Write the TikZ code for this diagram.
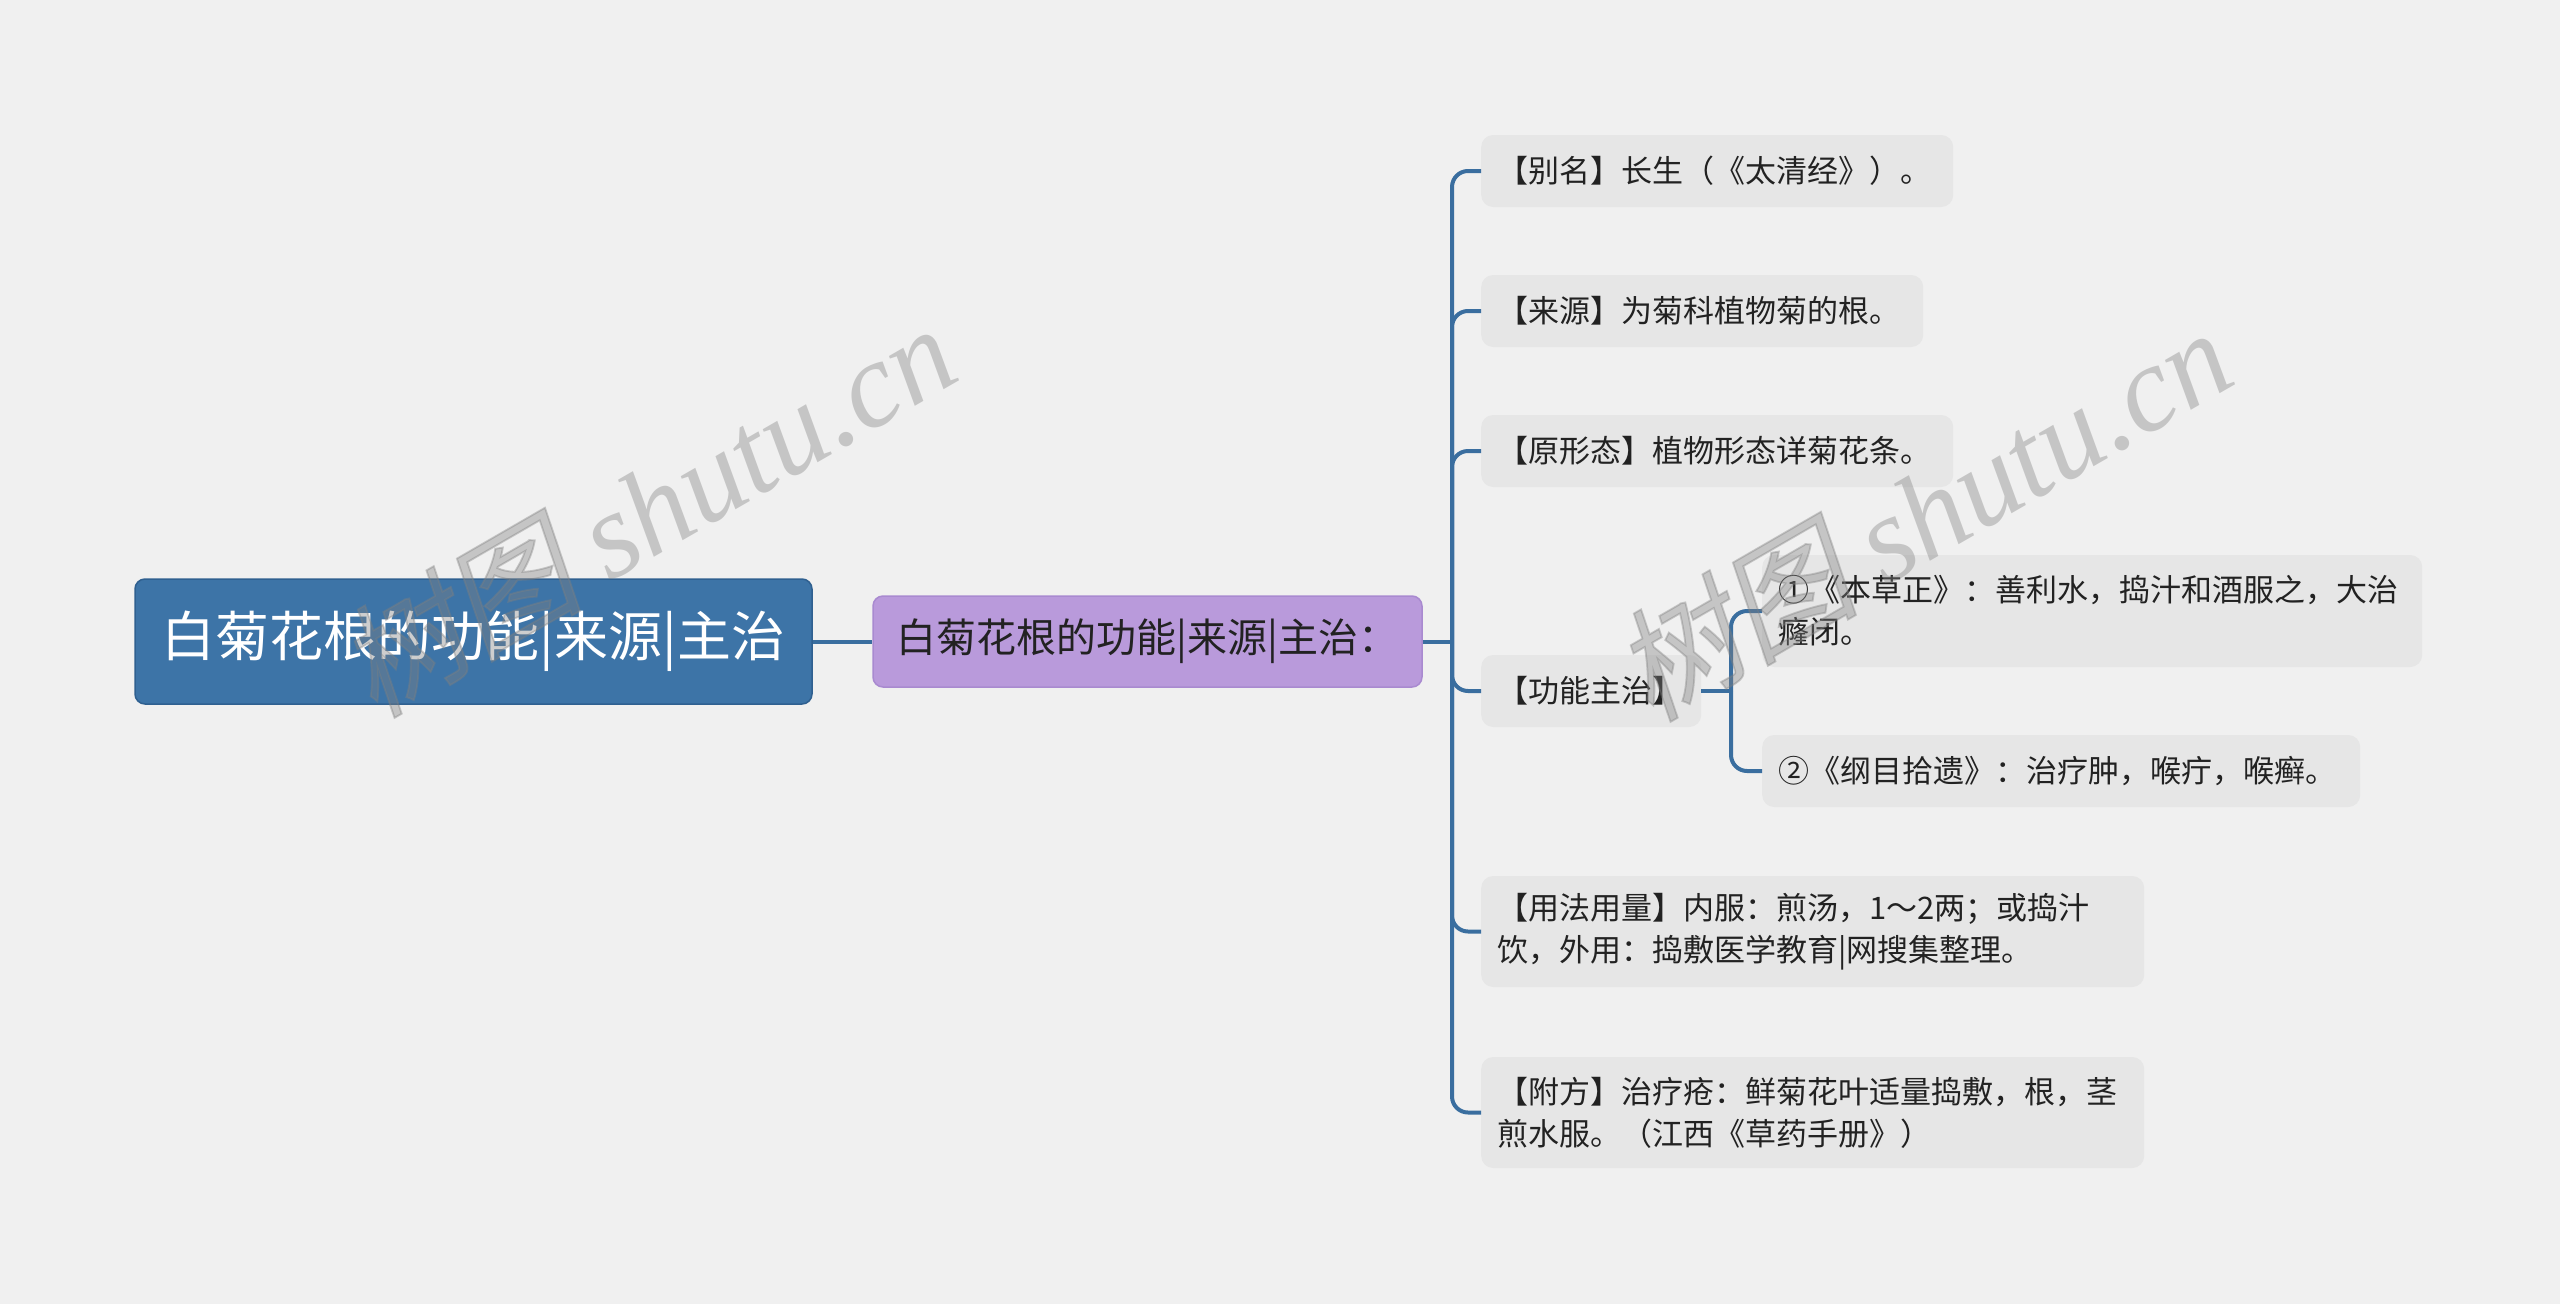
\documentclass[tikz,border=0pt]{standalone}
\usepackage{fontspec}
\setmainfont{Noto Sans CJK SC}
\newfontfamily\wmlatin{Liberation Serif}
\newfontfamily\wmcjk[FakeSlant=0.2,FakeBold=1.5]{Noto Sans CJK SC}
\usetikzlibrary{calc}
\definecolor{bg}{HTML}{F0F0F0}
\definecolor{rootc}{HTML}{3D74A7}
\definecolor{rootb}{HTML}{2F6090}
\definecolor{subc}{HTML}{B99ADB}
\definecolor{subb}{HTML}{A98AD0}
\definecolor{leafc}{HTML}{E6E6E6}
\definecolor{linec}{HTML}{3A6E9F}
\definecolor{txt}{HTML}{222222}
\tikzset{
  rootbox/.style={fill=rootc, draw=rootb, line width=1.5pt, rounded corners=10pt, text=white,
    font=\fontsize{54}{60}\selectfont, inner sep=0pt, minimum width=677pt, minimum height=125pt},
  subbox/.style={fill=subc, draw=subb, line width=1.5pt, rounded corners=10pt, text=txt,
    font=\fontsize{40}{46}\selectfont, inner sep=0pt, minimum width=549pt, minimum height=91pt},
  leafbox/.style={fill=leafc, rounded corners=12pt, text=txt, font=\fontsize{31}{42}\selectfont,
    inner xsep=16pt, inner ysep=0pt, align=left, anchor=west},
  conn/.style={draw=linec, line width=4pt},
  wm/.style={text=black!50, opacity=0.38, font=\fontsize{122}{130}\selectfont, inner sep=0pt}
}
\begin{document}
\begin{tikzpicture}[x=1pt,y=-1pt]
\fill[bg] (0,0) rectangle (2560,1304);
\useasboundingbox (0,0) rectangle (2560,1304);

% main nodes
\node[rootbox] (root) at (473.5,641.5) {白菊花根的功能|来源|主治};
\node[subbox] (sub) at (1147.5,641.5) {白菊花根的功能|来源|主治：};

% leaves
\node[leafbox, text width=440pt, minimum height=72pt] (l1) at (1481,171) {【别名】长生（《太清经》）。};
\node[leafbox, text width=410pt, minimum height=72pt] (l2) at (1481,311) {【来源】为菊科植物菊的根。};
\node[leafbox, text width=440pt, minimum height=72pt] (l3) at (1481,451) {【原形态】植物形态详菊花条。};
\node[leafbox, text width=188pt, minimum height=72pt] (l4) at (1481,691) {【功能主治】};
\node[leafbox, text width=631pt, minimum height=111pt] (l5) at (1481,931.5) {【用法用量】内服：煎汤，1～2两；或捣汁\\饮，外用：捣敷医学教育|网搜集整理。};
\node[leafbox, text width=631pt, minimum height=111pt] (l6) at (1481,1112.5) {【附方】治疗疮：鲜菊花叶适量捣敷，根，茎\\煎水服。（江西《草药手册》）};

% sub-leaves
\node[leafbox, text width=628pt, minimum height=112pt] (s1) at (1762,611) {①《本草正》：善利水，捣汁和酒服之，大治\\癃闭。};
\node[leafbox, text width=566pt, minimum height=72pt] (s2) at (1762,771) {②《纲目拾遗》：治疗肿，喉疔，喉癣。};

% connectors
\coordinate (j1) at (1452,641.5);
\coordinate (j2) at (1731,691);
\draw[conn] (root.east) -- (sub.west);
\draw[conn] (sub.east) -- (j1);
\foreach \n in {l1,l2,l3,l4,l5,l6}
  \draw[conn, rounded corners=16pt] (j1) -- (j1 |- \n.west) -- (\n.west);
\draw[conn] (l4.east) -- (j2);
\foreach \n in {s1,s2}
  \draw[conn, rounded corners=16pt] (j2) -- (j2 |- \n.west) -- (\n.west);

% watermarks
\node[wm, rotate=30] (wm1) at (646,508) {\wmcjk 树图 \wmlatin\itshape shutu.cn};
\node[wm, rotate=30] (wm2) at (1922,512) {\wmcjk 树图 \wmlatin\itshape shutu.cn};
\end{tikzpicture}
\end{document}
